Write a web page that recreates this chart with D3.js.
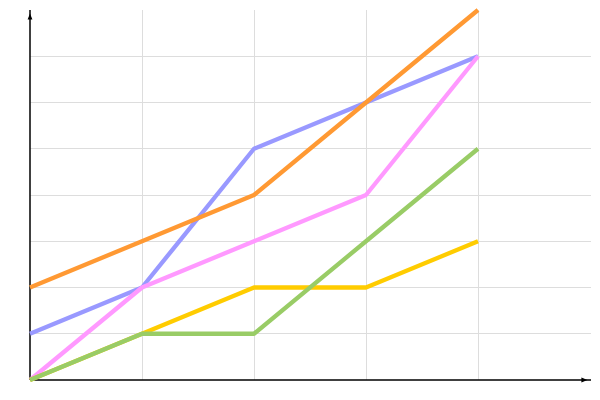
<!DOCTYPE html>
<html>
<head>
<meta charset="utf-8">
<script src="https://cdn.jsdelivr.net/npm/d3@7"></script>
<style>
html,body{margin:0;padding:0;background:#fff;}
svg{display:block;}
</style>
</head>
<body>
<svg id="chart" width="600" height="400"></svg>
<script>
const categories = [0, 1, 2, 3, 4];
const blueValues   = [1, 2, 5, 6, 7];
const pinkValues   = [0, 2, 3, 4, 7];
const yellowValues = [0, 1, 2, 2, 3];
const greenValues  = [0, 1, 1, 3, 5];
const orangeValues = [2, 3, 4, 6, 8];
const yGridTicks = [1, 2, 3, 4, 5, 6, 7];
const xGridTicks = [1, 2, 3, 4];

const series = [
  {name: "blue", values: blueValues, color: "#9999ff"},
  {name: "pink", values: pinkValues, color: "#ff99ff"},
  {name: "yellow", values: yellowValues, color: "#ffcc00"},
  {name: "green", values: greenValues, color: "#99cc66"},
  {name: "orange", values: orangeValues, color: "#ff9933"}
];

const svg = d3.select("#chart");
const x = d3.scaleLinear().domain([0, 5]).range([30, 590]);
const y = d3.scaleLinear().domain([0, 8]).range([380, 10]);

const defs = svg.append("defs");
defs.append("marker").attr("id", "arrow")
  .attr("viewBox", "0 0 10 10").attr("refX", 16).attr("refY", 5)
  .attr("markerUnits", "userSpaceOnUse")
  .attr("markerWidth", 6).attr("markerHeight", 6)
  .attr("overflow", "visible")
  .attr("orient", "auto")
  .append("path").attr("d", "M0,1L10,5L0,9Z").attr("fill", "#000");

// grid
svg.append("g").selectAll("line.h").data(yGridTicks).join("line")
  .attr("x1", x(0)).attr("x2", x(5) + 1)
  .attr("y1", d => y(d)).attr("y2", d => y(d))
  .attr("stroke", "#dddddd").attr("stroke-width", 1).attr("shape-rendering", "crispEdges");
svg.append("g").selectAll("line.v").data(xGridTicks).join("line")
  .attr("x1", d => x(d)).attr("x2", d => x(d))
  .attr("y1", y(8)).attr("y2", y(0))
  .attr("stroke", "#dddddd").attr("stroke-width", 1).attr("shape-rendering", "crispEdges");

// axes
svg.append("line").attr("x1", x(0)).attr("x2", x(5) + 1).attr("y1", y(0)).attr("y2", y(0))
  .attr("stroke", "#000").attr("stroke-width", 1.5).attr("marker-end", "url(#arrow)");
svg.append("line").attr("x1", x(0)).attr("x2", x(0)).attr("y1", y(0)).attr("y2", y(8))
  .attr("stroke", "#000").attr("stroke-width", 1.5).attr("marker-end", "url(#arrow)");

// lines
const line = d3.line().x((d, i) => x(categories[i])).y(d => y(d));
svg.append("g").selectAll("path").data(series).join("path")
  .attr("d", d => line(d.values))
  .attr("fill", "none")
  .attr("stroke", d => d.color)
  .attr("stroke-width", 4.3)
  .attr("stroke-linejoin", "round");
</script>
</body>
</html>
